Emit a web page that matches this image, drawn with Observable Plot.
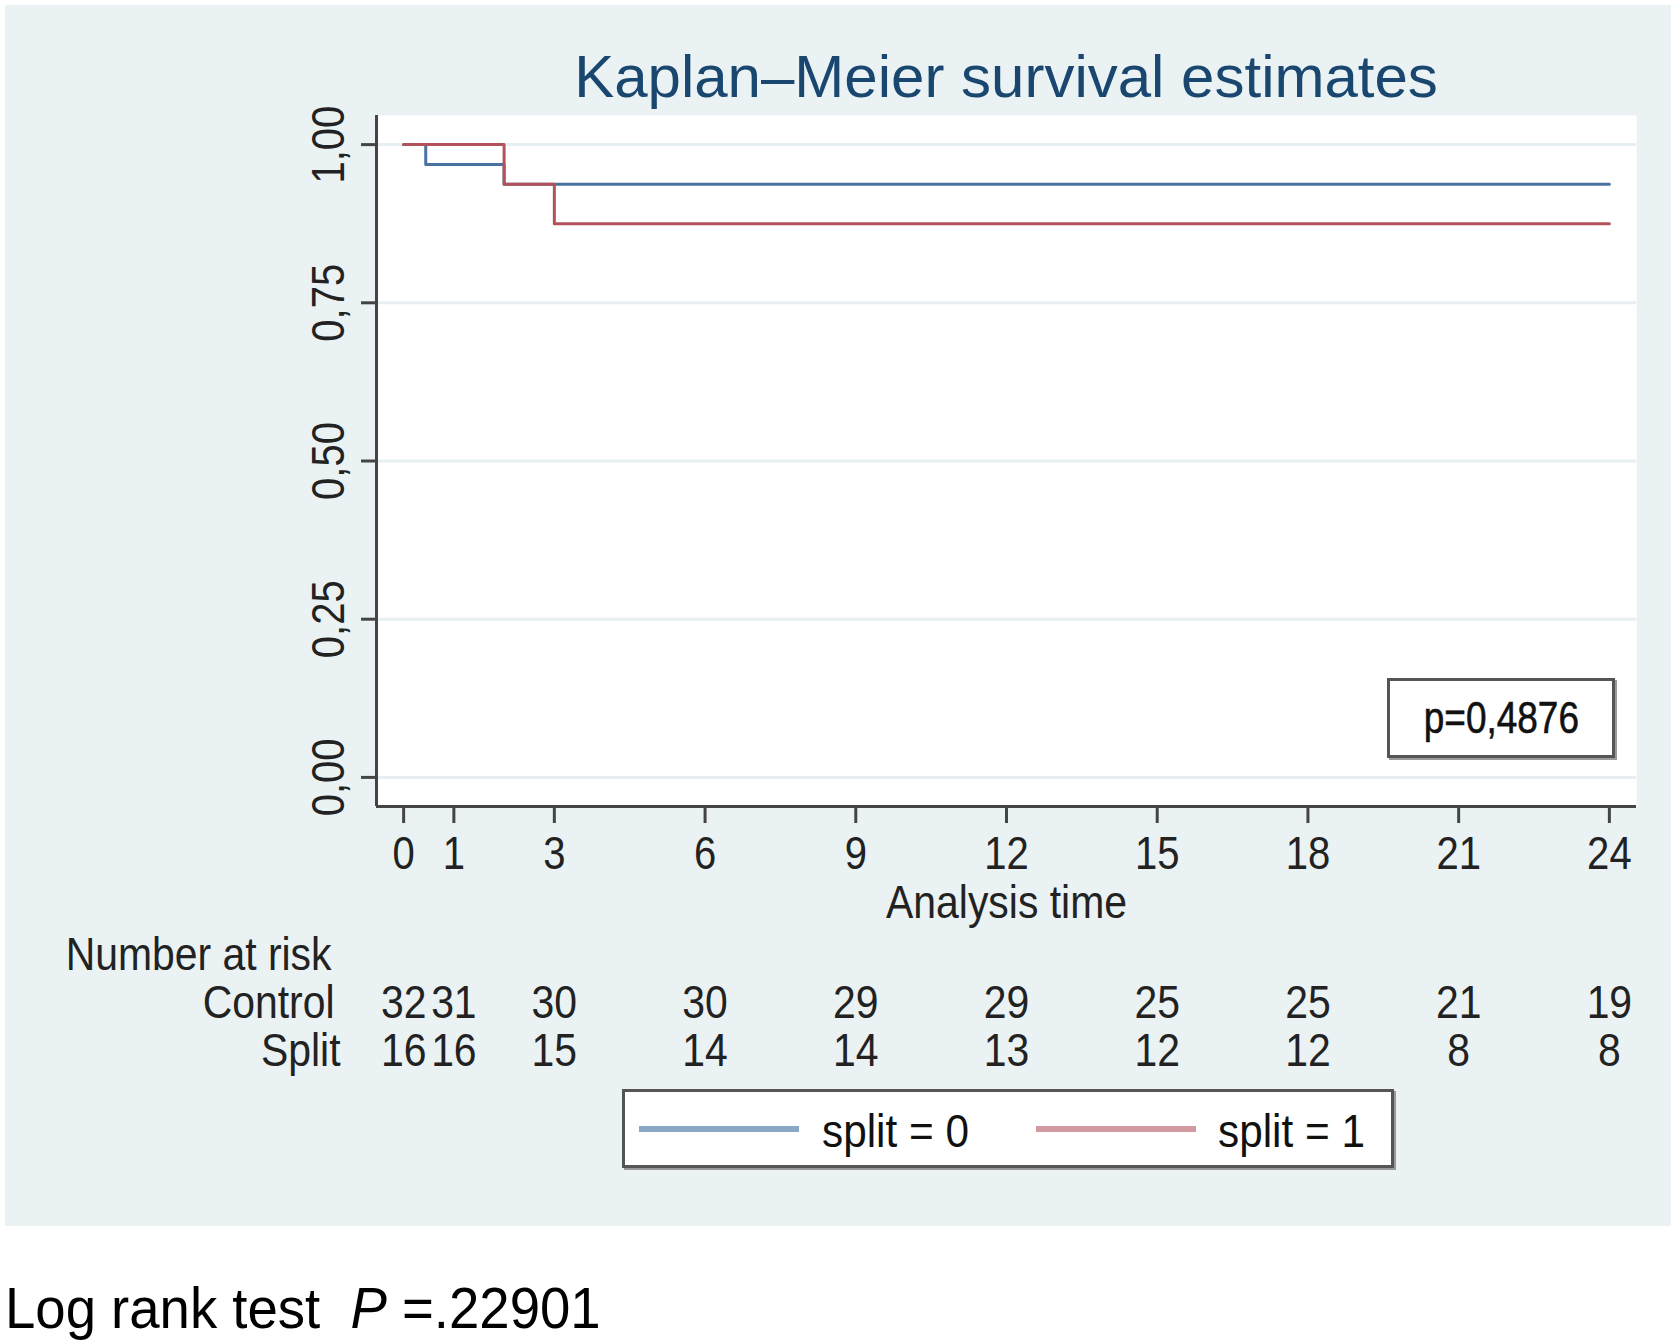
<!DOCTYPE html>
<html>
<head>
<meta charset="utf-8">
<script src="https://cdn.jsdelivr.net/npm/d3@7"></script>
<script src="https://cdn.jsdelivr.net/npm/@observablehq/plot@0.6"></script>
<style>
  html, body { margin: 0; padding: 0; background: #ffffff; }
  body { width: 1675px; height: 1344px; position: relative; overflow: hidden;
         font-family: 'Liberation Sans', Arial, sans-serif; }
  #panel { position: absolute; left: 5px; top: 5px; width: 1666px; height: 1221px; background: #eaf2f3; }
  #chart { position: absolute; left: 0; top: 0; }
  #title { position: absolute; left: 1001px; top: 40px; transform: translateX(-50%); white-space: nowrap;
           font-size: 60px; line-height: 64px; color: #1a476f; }
  .box { position: absolute; background: #fff; border: 3px solid #555; box-shadow: 2px 2px 0 #9a9a9a; box-sizing: border-box; }
  #pbox { left: 1382px; top: 673px; width: 228px; height: 80px; display: flex; align-items: center; justify-content: center;
          font-size: 44px; color: #111; }
  #pbox span { display: inline-block; transform: scaleX(0.84); transform-origin: center; -webkit-text-stroke: 0.6px #111; }
  #legend { left: 617px; top: 1084px; width: 772px; height: 79px; }
  .lline { position: absolute; height: 6px; top: 34px; }
  .ltext { position: absolute; top: 14px; font-size: 47px; line-height: 50px; color: #111; white-space: nowrap;
           transform: scaleX(0.9); transform-origin: left center; }
  #caption { position: absolute; left: 5px; top: 1277px; font-size: 58px; line-height: 62px; color: #000; white-space: nowrap;
             transform: scaleX(0.94); transform-origin: left center; }
</style>
</head>
<body>
<div id="panel">
  <div id="chart"></div>
  <div id="title">Kaplan–Meier survival estimates</div>
  <div id="pbox" class="box"><span>p=0,4876</span></div>
  <div id="legend" class="box"></div>
</div>
<div id="caption">Log rank test&nbsp; <i>P</i> =.22901</div>
<script>
// ---- data ----
const xTicks = [0, 1, 3, 6, 9, 12, 15, 18, 21, 24];
const yTicks = [0, 0.25, 0.5, 0.75, 1];
const xDomain = [-0.54, 24.54];
const yDomain = [-0.046, 1.046];

// Kaplan-Meier step points (time, survival)
const controlTime = [0, 0.44, 2, 24];
const controlSurv = [1, 0.96875, 0.9375, 0.9375];
const splitTime = [0, 2, 3, 24];
const splitSurv = [1, 0.9375, 0.875, 0.875];

// number at risk
const riskLabels = ["Control", "Split"];
const controlRisk = [32, 31, 30, 30, 29, 29, 25, 25, 21, 19];
const splitRisk = [16, 16, 15, 14, 14, 13, 12, 12, 8, 8];

const seriesNames = ["split = 0", "split = 1"];
const lineColors = ["#4a72a0", "#b4525c"];
const legendColors = ["#8aa7c5", "#d29aa0"];

const controlData = controlTime.map((t, i) => ({t, s: controlSurv[i]}));
const splitData = splitTime.map((t, i) => ({t, s: splitSurv[i]}));

const txt = "#222";
const chart = Plot.plot({
  width: 1666,
  height: 1221,
  marginLeft: 371,
  marginRight: 35,
  marginTop: 110,
  marginBottom: 420,
  style: { background: "transparent", fontFamily: "'Liberation Sans', Arial, sans-serif", fontSize: "46px", color: txt, overflow: "visible" },
  x: { domain: xDomain },
  y: { domain: yDomain },
  marks: [
    Plot.frame({ fill: "white", stroke: "none" }),
    Plot.gridY(yTicks, { stroke: "#e6eff1", strokeOpacity: 1, strokeWidth: 3 }),
    Plot.line(controlData, { x: "t", y: "s", curve: "step-after", stroke: lineColors[0], strokeWidth: 3 }),
    Plot.line(splitData, { x: "t", y: "s", curve: "step-after", stroke: lineColors[1], strokeWidth: 3 }),
    Plot.ruleX([xDomain[0]], { stroke: "#444", strokeWidth: 3 }),
    Plot.ruleY([yDomain[0]], { stroke: "#444", strokeWidth: 3 }),
    Plot.axisY({ ticks: yTicks, tickFormat: d => d.toFixed(2).replace(".", ","), tickRotate: -90,
                 tickSize: 15, tickPadding: 18, label: null, fontSize: 46, strokeWidth: 3, stroke: "#444" }),
    Plot.axisX({ ticks: xTicks, tickFormat: d => String(d), tickSize: 17, tickPadding: 13,
                 label: null, fontSize: 46, strokeWidth: 3, stroke: "#444" }),
    Plot.text(["Analysis time"], { frameAnchor: "bottom", lineAnchor: "middle", dy: 96, fontSize: 47, fill: txt }),
    Plot.text(["Number at risk"], { frameAnchor: "bottom-left", lineAnchor: "middle", dx: -45, dy: 148, textAnchor: "end", fontSize: 47, fill: txt }),
    Plot.text([riskLabels[0]], { frameAnchor: "bottom-left", lineAnchor: "middle", dx: -42, dy: 196, textAnchor: "end", fontSize: 47, fill: txt }),
    Plot.text([riskLabels[1]], { frameAnchor: "bottom-left", lineAnchor: "middle", dx: -36, dy: 244, textAnchor: "end", fontSize: 47, fill: txt }),
    Plot.text(xTicks, { x: d => d, text: (d, i) => String(controlRisk[i]), frameAnchor: "bottom", lineAnchor: "middle", dy: 196, fontSize: 47, fill: txt }),
    Plot.text(xTicks, { x: d => d, text: (d, i) => String(splitRisk[i]), frameAnchor: "bottom", lineAnchor: "middle", dy: 244, fontSize: 47, fill: txt })
  ]
});
document.getElementById("chart").appendChild(chart);

// condense the SVG texts (the reference uses a narrow face)
chart.querySelectorAll("text").forEach(t => {
  const len = t.getComputedTextLength();
  if (len > 0) {
    t.setAttribute("textLength", (len * 0.87).toFixed(2));
    t.setAttribute("lengthAdjust", "spacingAndGlyphs");
  }
});

// legend (HTML)
const legend = document.getElementById("legend");
const lineLefts = [14, 411];
const textLefts = [197, 593];
seriesNames.forEach((name, i) => {
  const l = document.createElement("div");
  l.className = "lline";
  l.style.left = lineLefts[i] + "px";
  l.style.width = "160px";
  l.style.background = legendColors[i];
  legend.appendChild(l);
  const t = document.createElement("div");
  t.className = "ltext";
  t.style.left = textLefts[i] + "px";
  t.textContent = name;
  legend.appendChild(t);
});
</script>
</body>
</html>
